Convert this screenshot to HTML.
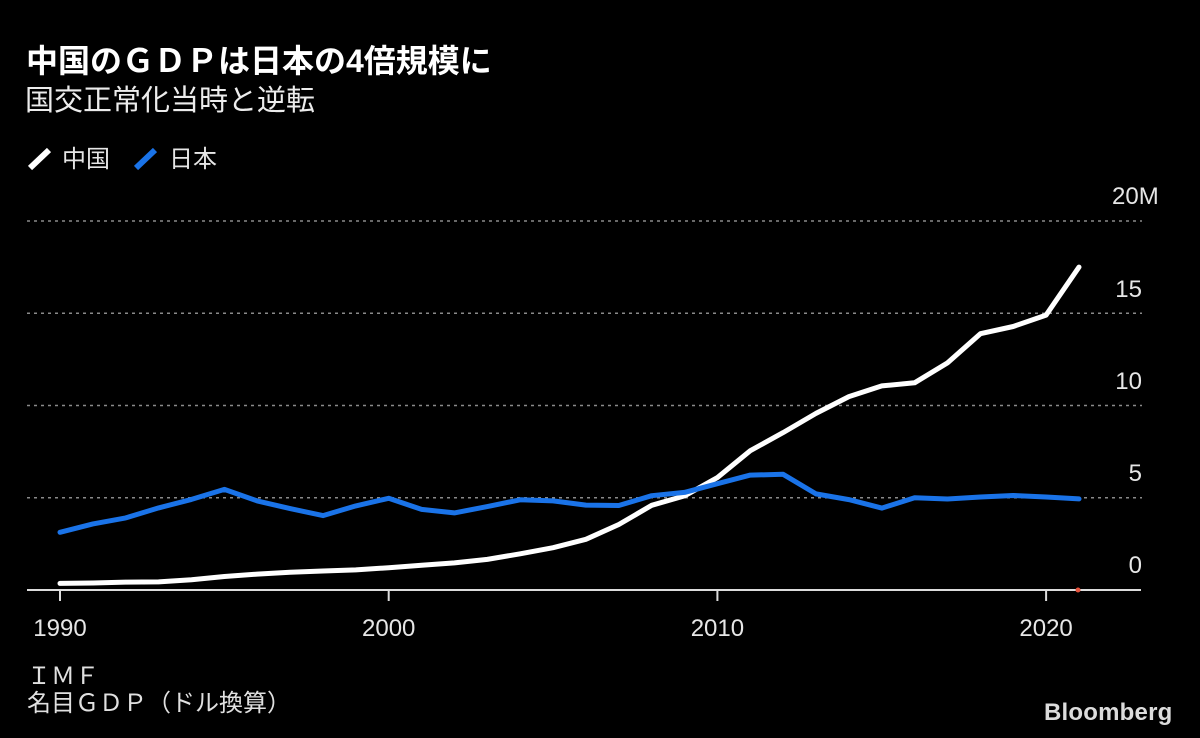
<!DOCTYPE html>
<html>
<head>
<meta charset="utf-8">
<style>
  html,body{margin:0;padding:0;background:#000;}
  body{width:1200px;height:738px;overflow:hidden;}
  svg{display:block;}
  text{font-family:"Liberation Sans","Noto Sans CJK JP",sans-serif;}
</style>
</head>
<body>
<svg width="1200" height="738" viewBox="0 0 1200 738" xmlns="http://www.w3.org/2000/svg">
  <rect x="0" y="0" width="1200" height="738" fill="#000"/>

  <!-- Title -->
  <text x="26" y="72" font-size="32" font-weight="bold" fill="#ffffff">中国のＧＤＰは日本の4倍規模に</text>
  <text x="25" y="110" font-size="29" fill="#ececec">国交正常化当時と逆転</text>

  <!-- Legend -->
  <line x1="30" y1="168" x2="49" y2="150" stroke="#ffffff" stroke-width="6"/>
  <text x="62" y="167" font-size="24" fill="#e6e6e6">中国</text>
  <line x1="136" y1="168" x2="155" y2="150" stroke="#1a73e8" stroke-width="6"/>
  <text x="169" y="167" font-size="24" fill="#e6e6e6">日本</text>

  <!-- Gridlines -->
  <g stroke="#8a8a8a" stroke-width="1.5" stroke-dasharray="3,4">
    <line x1="27" y1="221" x2="1142" y2="221"/>
    <line x1="27" y1="313.3" x2="1142" y2="313.3"/>
    <line x1="27" y1="405.5" x2="1142" y2="405.5"/>
    <line x1="27" y1="497.8" x2="1142" y2="497.8"/>
  </g>

  <!-- Y labels -->
  <g font-size="24" fill="#e6e6e6">
    <text x="1112" y="204">20M</text>
    <text x="1142" y="297" text-anchor="end">15</text>
    <text x="1142" y="389" text-anchor="end">10</text>
    <text x="1142" y="481" text-anchor="end">5</text>
    <text x="1142" y="573" text-anchor="end">0</text>
  </g>

  <!-- X axis -->
  <line x1="27" y1="590" x2="1141" y2="590" stroke="#dcdcdc" stroke-width="2"/>
  <g stroke="#dcdcdc" stroke-width="2">
    <line x1="60" y1="590" x2="60" y2="601"/>
    <line x1="388.7" y1="590" x2="388.7" y2="601"/>
    <line x1="717.4" y1="590" x2="717.4" y2="601"/>
    <line x1="1046.1" y1="590" x2="1046.1" y2="601"/>
  </g>
  <g font-size="24" fill="#e6e6e6" text-anchor="middle">
    <text x="60" y="636">1990</text>
    <text x="388.7" y="636">2000</text>
    <text x="717.4" y="636">2010</text>
    <text x="1046.1" y="636">2020</text>
  </g>

  <!-- China -->
  <polyline fill="none" stroke="#ffffff" stroke-width="5" stroke-linejoin="round" stroke-linecap="round"
    points="60,583.4 92.9,583.0 125.7,582.1 158.6,581.9 191.5,579.7 224.4,576.5 257.2,574.1 290.1,572.3 323,571 355.8,569.9 388.7,567.7 421.6,565.3 454.4,562.9 487.3,559.4 520.2,553.8 553.1,547.7 585.9,539.3 618.8,524.5 651.7,505.3 684.5,495.9 717.4,477.6 750.3,450.7 783.1,432.6 816,413.4 848.9,396.6 881.8,385.9 914.6,382.8 947.5,362.9 980.4,333.7 1013.2,326.5 1046.1,315.1 1079,267.1"/>

  <!-- Japan -->
  <polyline fill="none" stroke="#1a73e8" stroke-width="5" stroke-linejoin="round" stroke-linecap="round"
    points="60,532.3 92.9,523.9 125.7,517.9 158.6,507.9 191.5,499.4 224.4,489.4 257.2,500.9 290.1,508.6 323,515.6 355.8,505.9 388.7,498.3 421.6,509.4 454.4,512.9 487.3,506.6 520.2,499.8 553.1,500.9 585.9,505.1 618.8,505.5 651.7,495.7 684.5,492.4 717.4,483.7 750.3,475.1 783.1,474.3 816,493.9 848.9,499.6 881.8,508.1 914.6,497.8 947.5,499 980.4,497 1013.2,495.5 1046.1,497 1079,498.9"/>

  <!-- red dot -->
  <circle cx="1078" cy="590" r="2.5" fill="#e5533d"/>

  <!-- Footer -->
  <text x="27" y="684" font-size="24" fill="#e0e0e0">ＩＭＦ</text>
  <text x="27" y="711" font-size="24" fill="#e0e0e0">名目ＧＤＰ（ドル換算）</text>

  <text x="1044" y="720" font-size="24" font-weight="bold" fill="#dcdcdc" letter-spacing="0.2">Bloomberg</text>
</svg>
</body>
</html>
